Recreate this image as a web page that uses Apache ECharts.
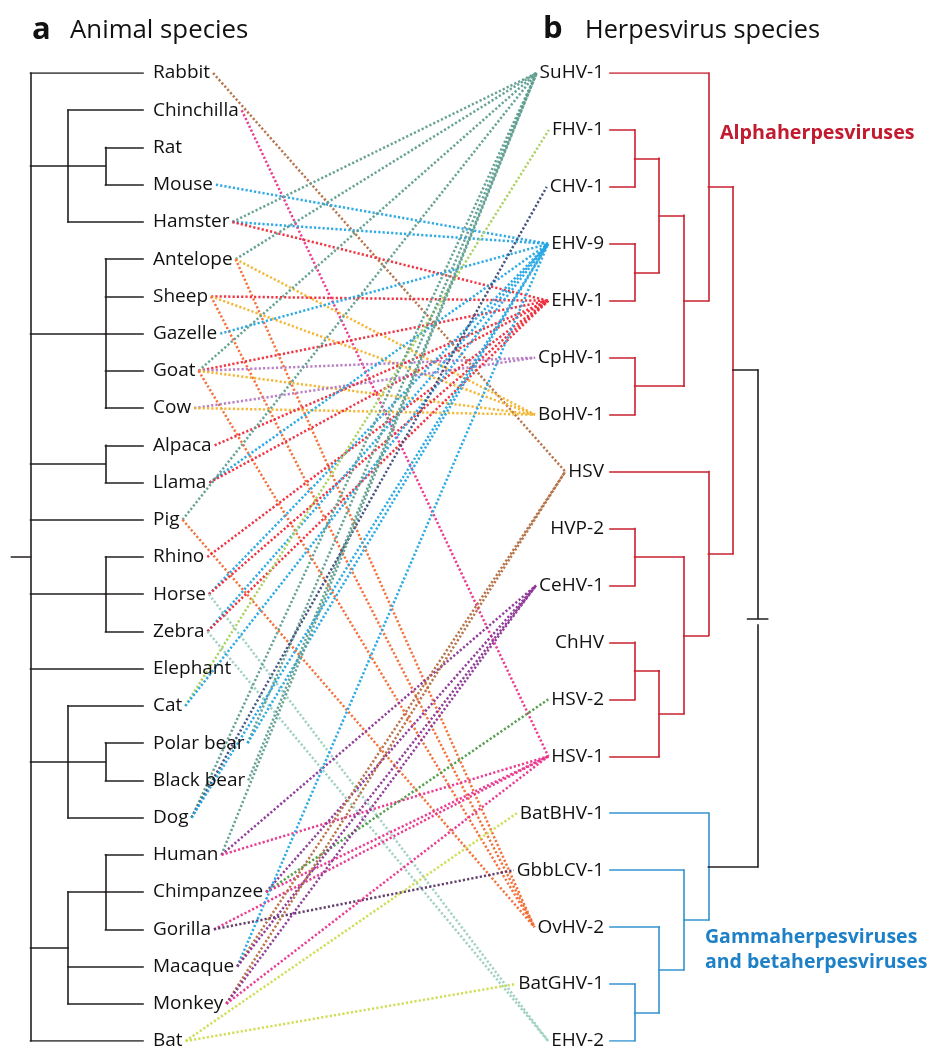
<!DOCTYPE html>
<html><head><meta charset="utf-8">
<script src="https://cdn.jsdelivr.net/npm/echarts@6/dist/echarts.min.js"></script>
<style>html,body{margin:0;padding:0;background:#fff}#c{width:934px;height:1053px}</style>
</head><body><div id="c"></div>
<script>
// ---------------- DATA ----------------
const animals = ['Rabbit','Chinchilla','Rat','Mouse','Hamster','Antelope','Sheep','Gazelle','Goat','Cow','Alpaca','Llama','Pig','Rhino','Horse','Zebra','Elephant','Cat','Polar bear','Black bear','Dog','Human','Chimpanzee','Gorilla','Macaque','Monkey','Bat'];
const viruses = ['SuHV-1','FHV-1','CHV-1','EHV-9','EHV-1','CpHV-1','BoHV-1','HSV','HVP-2','CeHV-1','ChHV','HSV-2','HSV-1','BatBHV-1','GbbLCV-1','OvHV-2','BatGHV-1','EHV-2'];
const animalTree = ['Rabbit', ['Chinchilla', ['Rat','Mouse'], 'Hamster'], ['Antelope','Sheep','Gazelle','Goat','Cow'], ['Alpaca','Llama'], 'Pig', ['Rhino','Horse','Zebra'], 'Elephant', ['Cat', ['Polar bear','Black bear'], 'Dog'], [['Human','Chimpanzee','Gorilla'], 'Macaque', 'Monkey'], 'Bat'];
const alphaTree = [['SuHV-1', [[['FHV-1','CHV-1'], ['EHV-9','EHV-1']], ['CpHV-1','BoHV-1']]], ['HSV', [['HVP-2','CeHV-1'], [['ChHV','HSV-2'], 'HSV-1']]]];
const gammaTree = ['BatBHV-1', ['GbbLCV-1', ['OvHV-2', ['BatGHV-1','EHV-2']]]];
const links = [
  ['Rabbit','HSV'], ['Chinchilla','HSV-1'], ['Mouse','EHV-9'],
  ['Hamster','SuHV-1'], ['Hamster','EHV-9'], ['Hamster','EHV-1'],
  ['Antelope','SuHV-1'], ['Antelope','BoHV-1'], ['Antelope','OvHV-2'],
  ['Sheep','EHV-1'], ['Sheep','BoHV-1'], ['Sheep','OvHV-2'],
  ['Gazelle','EHV-9'],
  ['Goat','SuHV-1'], ['Goat','EHV-1'], ['Goat','CpHV-1'], ['Goat','BoHV-1'], ['Goat','OvHV-2'],
  ['Cow','CpHV-1'], ['Cow','BoHV-1'],
  ['Alpaca','EHV-1'],
  ['Llama','EHV-9'], ['Llama','EHV-1'],
  ['Pig','SuHV-1'], ['Pig','OvHV-2'],
  ['Rhino','EHV-1'],
  ['Horse','EHV-9'], ['Horse','EHV-1'], ['Horse','EHV-2'],
  ['Zebra','EHV-9'], ['Zebra','EHV-1'], ['Zebra','EHV-2'],
  ['Cat','FHV-1'], ['Cat','EHV-9'],
  ['Polar bear','SuHV-1'], ['Polar bear','EHV-9'],
  ['Black bear','SuHV-1'],
  ['Dog','SuHV-1'], ['Dog','CHV-1'], ['Dog','EHV-9'],
  ['Human','SuHV-1'], ['Human','CeHV-1'], ['Human','HSV-1'],
  ['Chimpanzee','CeHV-1'], ['Chimpanzee','HSV-2'], ['Chimpanzee','HSV-1'],
  ['Gorilla','HSV-1'], ['Gorilla','GbbLCV-1'],
  ['Macaque','EHV-9'], ['Macaque','HSV'], ['Macaque','CeHV-1'],
  ['Monkey','HSV'], ['Monkey','CeHV-1'], ['Monkey','HSV-1'],
  ['Bat','BatBHV-1'], ['Bat','BatGHV-1']
];
const titles = { a: 'Animal species', b: 'Herpesvirus species', alpha: 'Alphaherpesviruses', gamma: ['Gammaherpesviruses', 'and betaherpesviruses'] };

// ---------------- STYLE ----------------
const linkColor = {
  'SuHV-1':'#5f9e8f','FHV-1':'#a9d05c','CHV-1':'#3d4d7a','EHV-9':'#23a5e4','EHV-1':'#ee2b3b',
  'CpHV-1':'#b679c3','BoHV-1':'#f2b42e','HSV':'#b36e42','CeHV-1':'#8b3595','HSV-2':'#4c9a46',
  'HSV-1':'#e8348b','BatBHV-1':'#cfdc4c','GbbLCV-1':'#5c3666','OvHV-2':'#f26b33','BatGHV-1':'#cfdc4c',
  'EHV-2':'#9ccfc2'
};
const INK = '#231f20', TEXT = '#111111', RED = '#c8202f', BLUE = '#3393cf';
const FONT = '"Open Sans", sans-serif';
const LABEL_SIZE = 19;
const ANIMAL_LABEL_X = 152, VIRUS_LABEL_X = 605;
const LEAF_L = 143, STEP_L = 37.5, LEAF_R = 610, STEP_R = 24.6;

const ctx = document.createElement('canvas').getContext('2d');
ctx.font = LABEL_SIZE + 'px "Open Sans"';
const tw = s => ctx.measureText(s).width;

const yA = n => animals.indexOf(n) / (animals.length - 1);
const yV = n => viruses.indexOf(n) / (viruses.length - 1);

function lay(node, yOf, xOf, segs) {
  if (typeof node === 'string') return { y: yOf(node), h: 0 };
  const kids = node.map(k => lay(k, yOf, xOf, segs));
  const h = 1 + Math.max(...kids.map(k => k.h));
  const y = (kids[0].y + kids[kids.length - 1].y) / 2;
  const x = xOf(h);
  segs.push([[x, kids[0].y], [x, kids[kids.length - 1].y]]);
  kids.forEach(k => segs.push([[x, k.y], [xOf(k.h), k.y]]));
  return { y, h, kids };
}
const xL = h => LEAF_L - h * STEP_L;
const xR = h => LEAF_R + h * STEP_R;

const leftSegs = [];
const leftRoot = lay(animalTree, yA, xL, leftSegs);
// root stub drawn at the mean height of the root's children
const rootStubY = leftRoot.kids.reduce((s, k) => s + k.y, 0) / leftRoot.kids.length;
leftSegs.push([[xL(leftRoot.h) - 19, rootStubY], [xL(leftRoot.h), rootStubY]]);

const alphaSegs = [], gammaSegs = [], rootSegs = [];
const aRoot = lay(alphaTree, yV, xR, alphaSegs);
const gRoot = lay(gammaTree, yV, xR, gammaSegs);
const rH = Math.max(aRoot.h, gRoot.h) + 1;
const rx = xR(rH);
const midY = (aRoot.y + gRoot.y) / 2;
rootSegs.push([[xR(aRoot.h), aRoot.y], [rx, aRoot.y]]);
rootSegs.push([[xR(gRoot.h), gRoot.y], [rx, gRoot.y]]);
rootSegs.push([[rx, aRoot.y], [rx, midY]]);
rootSegs.push([[rx - 10, midY], [rx + 10, midY]]);
rootSegs.push([[rx, midY + 0.007], [rx, gRoot.y]]);

const linkData = links.map(([a, v]) => ({
  coords: [[ANIMAL_LABEL_X + tw(a) + 4, yA(a)], [VIRUS_LABEL_X - tw(v) - 4, yV(v)]],
  lineStyle: { color: linkColor[v] }
}));

const segSeries = (segs, color) => ({
  type: 'lines', coordinateSystem: 'cartesian2d', silent: true, z: 3,
  lineStyle: { color, width: 1.6, type: 'solid', opacity: 1, cap: 'square' },
  data: segs.map(c => ({ coords: c }))
});

const labelSeries = (names, yOf, x, pos) => ({
  type: 'scatter', silent: true, z: 4, symbolSize: 2,
  itemStyle: { color: 'rgba(255,255,255,0)' },
  data: names.map(n => ({ value: [x, yOf(n)], name: n })),
  label: { show: true, position: pos, distance: 0, formatter: p => p.name,
    fontFamily: FONT, fontSize: LABEL_SIZE, color: TEXT, opacity: 1 }
});

const chart = echarts.init(document.getElementById('c'), null, { renderer: 'canvas' });
chart.setOption({
  backgroundColor: '#fff',
  animation: false,
  grid: { left: 0, right: 0, top: 73, bottom: 12 },
  xAxis: { type: 'value', min: 0, max: 934, show: false },
  yAxis: { type: 'value', min: 0, max: 1, inverse: true, show: false },
  series: [
    {
      type: 'lines', coordinateSystem: 'cartesian2d', silent: true, z: 2,
      lineStyle: { width: 2.5, type: [2.2, 2.1], opacity: 0.95, cap: 'butt' },
      data: linkData
    },
    segSeries(leftSegs, INK),
    segSeries(alphaSegs, RED),
    segSeries(gammaSegs, BLUE),
    segSeries(rootSegs, INK),
    labelSeries(animals, yA, ANIMAL_LABEL_X, 'right'),
    labelSeries(viruses, yV, VIRUS_LABEL_X, 'left')
  ],
  graphic: [
    { type: 'text', x: 32, y: 30, style: { text: 'a', font: 'bold 31px "Open Sans"', fill: TEXT, textVerticalAlign: 'middle' } },
    { type: 'text', x: 70, y: 31, style: { text: titles.a, font: '25.8px "Open Sans"', fill: TEXT, textVerticalAlign: 'middle' } },
    { type: 'text', x: 543, y: 29, style: { text: 'b', font: 'bold 31px "Open Sans"', fill: TEXT, textVerticalAlign: 'middle' } },
    { type: 'text', x: 585, y: 31, style: { text: titles.b, font: '25.3px "Open Sans"', fill: TEXT, textVerticalAlign: 'middle' } },
    { type: 'text', x: 720, y: 133, style: { text: titles.alpha, font: 'bold 19.7px "Open Sans"', fill: '#c21a2e', textVerticalAlign: 'middle' } },
    { type: 'text', x: 705, y: 937, style: { text: titles.gamma[0], font: 'bold 19.5px "Open Sans"', fill: '#1e80c6', textVerticalAlign: 'middle' } },
    { type: 'text', x: 705, y: 962, style: { text: titles.gamma[1], font: 'bold 19.5px "Open Sans"', fill: '#1e80c6', textVerticalAlign: 'middle' } }
  ]
});
</script>
</body></html>
